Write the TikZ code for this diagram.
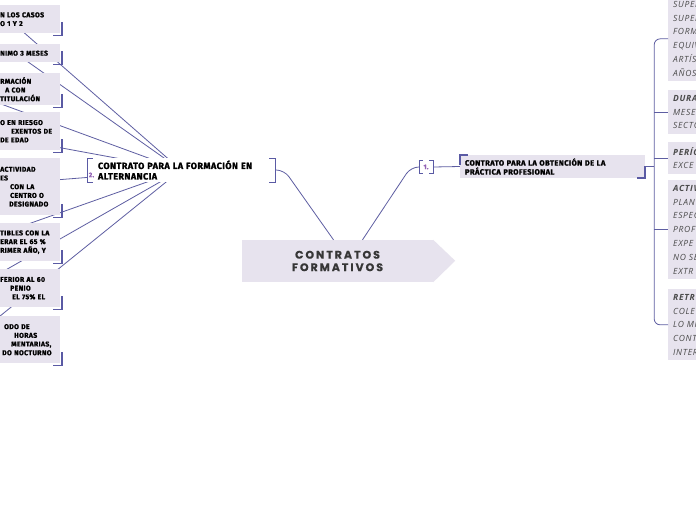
\documentclass[tikz,border=0pt]{standalone}
\usepackage{fontspec}
\usetikzlibrary{calc, backgrounds}
\newfontfamily\topicfont[LetterSpace=5, BoldFeatures={FakeBold=1.3}]{Fira Sans}
\newfontfamily\rootfont[LetterSpace=18, BoldFeatures={FakeBold=0.6}]{Poppins}
\newfontfamily\notefont[LetterSpace=8]{Open Sans}
\definecolor{lavender}{HTML}{E7E3EE}
\definecolor{linkblue}{HTML}{5E5EA2}
\definecolor{markblue}{HTML}{5A5AA4}
\definecolor{numpurple}{HTML}{9262B5}
\definecolor{inkgray}{HTML}{363636}
\definecolor{notegray}{HTML}{4A4A4A}

\begin{document}
\begin{tikzpicture}[x=1pt, y=-1pt,
  link/.style={linkblue, line width=0.8pt},
  bracket/.style={markblue, line width=0.6pt},
  cornermark/.style={markblue, line width=1.6pt},
  numlabel/.style={text=numpurple, inner sep=0pt, font=\topicfont\bfseries\fontsize{6.5}{7}\selectfont},
  leftbox/.style={fill=lavender, anchor=north west, minimum width=63pt, text width=57pt,
    inner xsep=3pt, inner ysep=0pt, align=left, font=\topicfont\bfseries\fontsize{6.9}{8.7}\selectfont},
  notebox/.style={fill=lavender, anchor=north west, minimum width=100pt, text width=90pt,
    inner xsep=4pt, inner ysep=5pt, align=left, text=notegray,
    font=\notefont\itshape\fontsize{8.5}{13.8}\selectfont},
  topicbox/.style={align=left, font=\topicfont\bfseries\fontsize{9}{10.5}\selectfont}]

\useasboundingbox (0,0) rectangle (696,520);

% Central topic
\node[fill=lavender, minimum width=191pt, minimum height=42pt, align=center, text=inkgray,
  font=\rootfont\bfseries\fontsize{11}{12.5}\selectfont] (root) at (337.5,261) {CONTRATOS\\FORMATIVOS};
\fill[lavender] (root.north east) -- ++(22,21) -- (root.south east) -- cycle;

% Branch 2 (left)
\node[topicbox, fill=white, minimum width=188pt, minimum height=24pt, text width=166pt,
  inner xsep=11pt, inner ysep=0pt] (t2) at (181,170) {CONTRATO PARA LA FORMACIÓN EN\\ALTERNANCIA};
\node[numlabel] (num2) at (91.5,175) {2.};
\draw[bracket] ([xshift=6pt]t2.north west) -- (t2.north west) -- (t2.south west) -- ++(6,0);
\draw[bracket] ([xshift=-6pt]t2.north east) -- (t2.north east) -- (t2.south east) -- ++(-6,0);

\node[leftbox, minimum height=28pt] (f1) at (-3,5) {N LOS CASOS\\O 1 Y 2};
\node[leftbox, minimum height=18pt] (f2) at (-3,44) {NIMO 3 MESES};
\node[leftbox, minimum height=32pt] (f3) at (-3,73) {RMACIÓN\\\hspace*{5pt}A CON\\TITULACIÓN};
\node[leftbox, minimum height=38pt] (f4) at (-3,112) {O EN RIESGO\\\hspace*{11pt}EXENTOS DE\\DE EDAD};
\node[leftbox, minimum height=57pt] (f5) at (-3,158)
  {ACTIVIDAD\\ES\\\hspace*{10pt}CON LA\\\hspace*{10pt}CENTRO O\\\hspace*{9pt}DESIGNADO};
\node[leftbox, minimum height=38pt] (f6) at (-3,223) {TIBLES CON LA\\ERAR EL 65 \%\\RIMER AÑO, Y};
\node[leftbox, minimum height=38pt] (f7) at (-3,269) {FERIOR AL 60\\\hspace*{10pt}PENIO\\\hspace*{12pt}EL 75\% EL};
\node[leftbox, minimum height=47pt] (f8) at (-3,316)
  {\hspace*{4pt}ODO DE\\\hspace*{14pt}HORAS\\\hspace*{11pt}MENTARIAS,\\\hspace*{2pt}DO NOCTURNO};

\foreach \i in {1,...,8}
  \draw[cornermark] ($(f\i.south east)+(1.5,-11)$) -- ++(0,13) -- ++(-9,0);

% Branch 1 (right)
\node[numlabel, minimum width=14pt, minimum height=13pt] (n1) at (426,167) {1.};
\draw[bracket] ([xshift=4pt]n1.north west) -- (n1.north west) -- (n1.south west) -- ++(4,0);
\draw[bracket] ([xshift=-4pt]n1.north east) -- (n1.north east) -- (n1.south east) -- ++(-4,0);

\node[topicbox, fill=lavender, minimum width=185pt, minimum height=23pt, text width=175pt,
  inner xsep=5pt, inner ysep=0pt, font=\topicfont\bfseries\fontsize{7.6}{9}\selectfont]
  (r0) at (552.5,166.5) {CONTRATO PARA LA OBTENCIÓN DE LA\\PRÁCTICA PROFESIONAL};
\draw[cornermark] ([yshift=-10pt]r0.north west) -- (r0.north west) -- ++(8,0);
\draw[cornermark] ([yshift=12pt]r0.south east) -- (r0.south east) -- ++(-8,0);

\node[notebox] (c1) at (668,-4) {SUPER\\SUPER\\FORM\\EQUIV\\ARTÍS\\AÑOS};
\node[notebox] (c2) at (668,90) {\textbf{DURA}\\MESE\\SECTO};
\node[notebox] (c3) at (668,142) {\textbf{PERÍO}\\EXCE};
\node[notebox] (c4) at (668,180) {\textbf{ACTIV}\\PLAN\\ESPEC\\PROFE\\EXPE\\NO SE\\EXTR};
\node[notebox] (c5) at (668,289) {\textbf{RETR}\\COLE\\LO MI\\CONT\\INTER};

% Connectors
\draw[link, rounded corners=8pt] ([xshift=-4pt]root.north) -- ($(t2.east)+(9,0)$) -- (t2.east);
\draw[link, rounded corners=8pt] ([xshift=25pt]root.north) -- ($(n1.west)+(-8,0)$) -- (n1.west);
\draw[link] (n1.east) -- (r0.west);

\coordinate (spine) at ($(r0.east)+(9,0)$);
\draw[link] (r0.east) -- (spine);
\draw[link, rounded corners=6pt] (c1.west) -| (spine) |- (c5.west);
\foreach \c in {c2,c3,c4}
  \draw[link] (spine |- \c.west) -- (\c.west);

\begin{scope}[on background layer]
  \fill[white] (0,0) rectangle (696,520);
  \foreach \i/\s in {1/-20,2/-13,3/-68,4/-58,5/-58,6/-52,7/-55,8/-58}
    \draw[link] (t2.center) -- ([xshift=\s pt]f\i.center);
\end{scope}

\end{tikzpicture}
\end{document}
